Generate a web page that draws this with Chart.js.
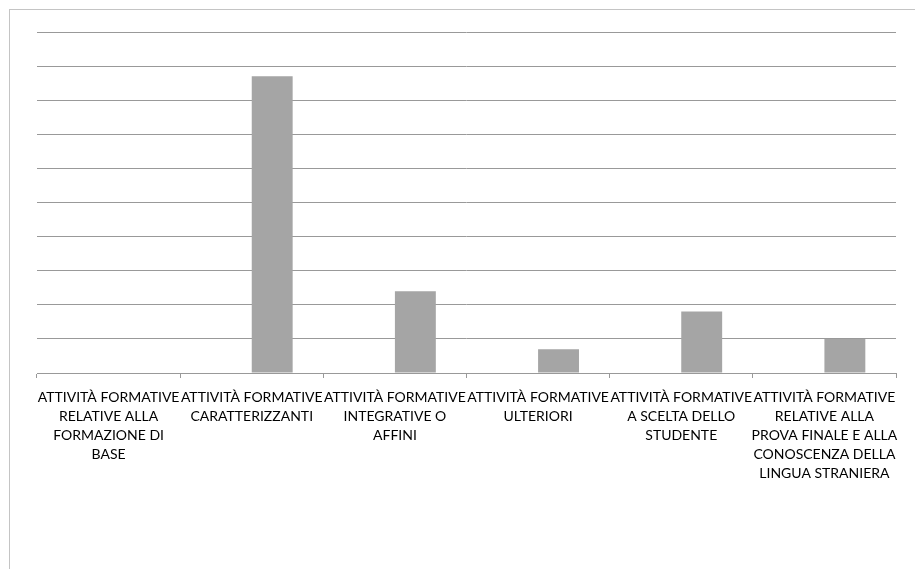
<!DOCTYPE html>
<html>
<head>
<meta charset="utf-8">
<script src="https://cdn.jsdelivr.net/npm/chart.js@4/dist/chart.umd.min.js"></script>
<style>
  html, body { margin: 0; padding: 0; background: #fff; overflow: hidden; }
  #wrap { position: relative; width: 915px; height: 569px; }
  #frame { position: absolute; left: 9px; top: 9px; width: 1000px; height: 700px; border: 1px solid #c4c4c4; box-sizing: border-box; }
  canvas { position: absolute; left: 0; top: 0; }
</style>
</head>
<body>
<div id="wrap">
  <div id="frame"></div>
  <canvas id="barChart" width="915" height="569"></canvas>
</div>
<script>
// categories (already wrapped the way the picture shows them)
const categories = [
  ['ATTIVITÀ FORMATIVE', 'RELATIVE ALLA', 'FORMAZIONE DI', 'BASE'],
  ['ATTIVITÀ FORMATIVE', 'CARATTERIZZANTI'],
  ['ATTIVITÀ FORMATIVE', 'INTEGRATIVE O', 'AFFINI'],
  ['ATTIVITÀ FORMATIVE', 'ULTERIORI'],
  ['ATTIVITÀ FORMATIVE', 'A SCELTA DELLO', 'STUDENTE'],
  ['ATTIVITÀ FORMATIVE', 'RELATIVE ALLA', 'PROVA FINALE E ALLA', 'CONOSCENZA DELLA', 'LINGUA STRANIERA']
];

// first series is empty in the picture, second one holds the visible bars
const seriesA = [0, 0, 0, 0, 0, 0];
const seriesB = [0, 87, 24, 7, 18, 10];

const yMax = 100;
const yStep = 10;

const ctx = document.getElementById('barChart').getContext('2d');
new Chart(ctx, {
  type: 'bar',
  data: {
    labels: categories,
    datasets: [
      {
        label: 'Serie 1',
        data: seriesA,
        backgroundColor: '#5b9bd5',
        borderWidth: 0
      },
      {
        label: 'Serie 2',
        data: seriesB,
        backgroundColor: '#a5a5a5',
        borderWidth: 0
      }
    ]
  },
  options: {
    responsive: false,
    animation: false,
    devicePixelRatio: 1,
    categoryPercentage: 2 / 3.5,
    barPercentage: 1,
    layout: {
      padding: { left: 37, right: 19, top: 32, bottom: 0 }
    },
    plugins: {
      legend: { display: false },
      tooltip: { enabled: false }
    },
    scales: {
      x: {
        grid: {
          offset: true,
          drawOnChartArea: false,
          drawTicks: true,
          tickLength: 5,
          color: '#999999'
        },
        border: { display: true, color: '#999999', width: 1 },
        ticks: {
          autoSkip: false,
          maxRotation: 0,
          minRotation: 0,
          padding: 10,
          color: '#000000',
          font: { family: 'Lato', size: 14, lineHeight: 1.35 }
        },
        afterFit: function(scale) { scale.height = 196; }
      },
      y: {
        min: 0,
        max: yMax,
        ticks: { display: false, stepSize: yStep },
        grid: { drawTicks: false, color: '#999999', lineWidth: 1 },
        border: { display: false },
        afterFit: function(scale) { scale.width = 0; }
      }
    }
  }
});
</script>
</body>
</html>
